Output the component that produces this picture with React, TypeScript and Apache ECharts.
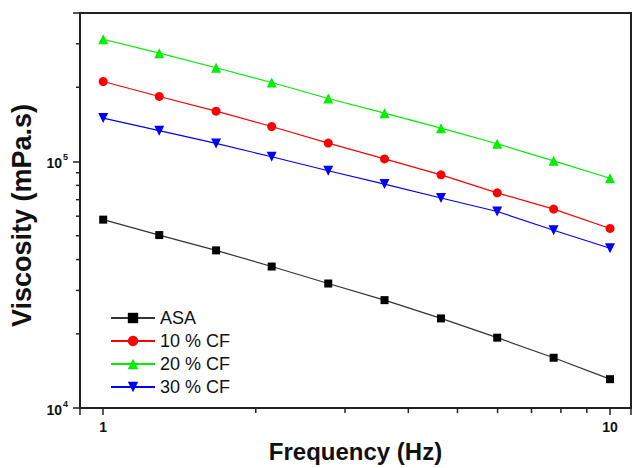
import React, { useEffect, useRef } from "react";
import * as echarts from "echarts";

const frequency = [1, 1.29, 1.67, 2.15, 2.78, 3.59, 4.64, 5.99, 7.74, 10];
const asa = [58100, 50300, 43600, 37500, 32000, 27400, 23100, 19300, 16000, 13100];
const cf10 = [211000, 183500, 160000, 138600, 118700, 102400, 88300, 74600, 64100, 53500];
const cf20 = [313000, 275000, 240000, 209000, 180000, 157000, 136500, 118000, 100600, 85500];
const cf30 = [150000, 133300, 118400, 104500, 91700, 81000, 71100, 62700, 52600, 44500];

const xMinorTicks = [2, 3, 4, 5, 6, 7, 8, 9];
const yMinorTicks = [20000, 30000, 40000, 50000, 60000, 70000, 80000, 90000, 200000, 300000];
const xLabels = [1, 10];
const yLabels = [10000, 100000];

const X_MIN = 0.9;
const X_MAX = 11;
const Y_MIN = 10000;
const Y_MAX = 400000;

const FONT = "'Liberation Sans', Arial, Helvetica, sans-serif";
const AXIS = "#222";

function pairs(ys: number[]) {
  return frequency.map((x, i) => [x, ys[i]]);
}

export default function App() {
  const ref = useRef<HTMLDivElement>(null);
  useEffect(() => {
    if (!ref.current) return;
    const chart = echarts.init(ref.current, undefined, { renderer: "svg" });
    const near = (a: number, b: number) => Math.abs(a - b) / b < 1e-6;
    const lineSeries = (name: string, ys: number[], color: string, symbol: string, size: number, rotate = 0, lineColor = color) => ({
      type: "line",
      name,
      data: pairs(ys),
      symbol,
      symbolSize: size,
      symbolRotate: rotate,
      showAllSymbol: true,
      itemStyle: { color },
      lineStyle: { color: lineColor, width: 1.2 },
      z: 3,
    });
    chart.setOption({
      animation: false,
      backgroundColor: "#fff",
      grid: {
        left: 78,
        right: 0,
        top: 13,
        bottom: 40,
        show: true,
        borderColor: AXIS,
        borderWidth: 2,
        backgroundColor: "transparent",
      },
      legend: {
        orient: "vertical",
        left: 110,
        top: 309,
        padding: 0,
        itemGap: 5,
        itemWidth: 44,
        itemHeight: 13,
        data: ["ASA", "10 % CF", "20 % CF", "30 % CF"],
        textStyle: { fontFamily: FONT, fontSize: 18, color: "#111", lineHeight: 18 },
      },
      xAxis: {
        type: "log",
        logBase: 10,
        min: X_MIN,
        max: X_MAX,
        name: "Frequency (Hz)",
        nameLocation: "middle",
        nameGap: 17,
        nameTextStyle: { fontFamily: FONT, fontSize: 24, fontWeight: "bold", color: "#111" },
        axisLine: { show: true, lineStyle: { color: AXIS, width: 2 } },
        axisTick: { show: true, inside: false, length: 7, lineStyle: { color: AXIS, width: 1.5 } },
        axisLabel: {
          margin: 12,
          fontFamily: FONT,
          fontSize: 14,
          fontWeight: "bold",
          color: "#111",
          showMinLabel: true,
          showMaxLabel: true,
          formatter: (v: number) => (xLabels.some((l) => near(v, l)) ? String(Math.round(v)) : ""),
        },
        splitLine: { show: false },
        minorTick: { show: false },
      },
      yAxis: {
        type: "log",
        logBase: 10,
        min: Y_MIN,
        max: Y_MAX,
        name: "Viscosity (mPa.s)",
        nameLocation: "middle",
        nameGap: 45,
        nameTextStyle: { fontFamily: FONT, fontSize: 27, fontWeight: "bold", color: "#111", padding: [0, 10, 0, 0] },
        axisLine: { show: true, lineStyle: { color: AXIS, width: 2 } },
        axisTick: { show: true, inside: false, length: 7, lineStyle: { color: AXIS, width: 1.5 } },
        axisLabel: {
          margin: 12,
          fontFamily: FONT,
          color: "#111",
          formatter: (v: number) => {
            const hit = yLabels.find((l) => near(v, l));
            return hit ? "{b|10}{s|" + Math.round(Math.log10(hit)) + "}" : "";
          },
          rich: {
            b: { fontFamily: FONT, fontSize: 14, fontWeight: "bold", color: "#111", lineHeight: 18, verticalAlign: "bottom" },
            s: { fontFamily: FONT, fontSize: 9, fontWeight: "bold", color: "#111", lineHeight: 18, verticalAlign: "top", padding: [0, 0, 0, 1] },
          },
        },
        splitLine: { show: false },
        minorTick: { show: false },
      },
      series: [
        lineSeries("ASA", asa, "#000", "rect", 8, 0, "#333"),
        lineSeries("10 % CF", cf10, "#ff0000", "circle", 9),
        lineSeries("20 % CF", cf20, "#00ee00", "triangle", 10),
        lineSeries("30 % CF", cf30, "#0000ff", "triangle", 10, 180),
        {
          type: "custom",
          name: "xminor",
          silent: true,
          z: 10,
          data: xMinorTicks.map((v) => [v, Y_MIN]),
          renderItem: (_p: any, api: any) => {
            const p = api.coord([api.value(0), api.value(1)]);
            return { type: "line", shape: { x1: p[0], y1: p[1], x2: p[0], y2: p[1] + 5 }, style: { stroke: AXIS, lineWidth: 1.5 } };
          },
        },
        {
          type: "custom",
          name: "yminor",
          silent: true,
          z: 10,
          data: yMinorTicks.map((v) => [X_MIN, v]),
          renderItem: (_p: any, api: any) => {
            const p = api.coord([api.value(0), api.value(1)]);
            return { type: "line", shape: { x1: p[0], y1: p[1], x2: p[0] - 4, y2: p[1] }, style: { stroke: AXIS, lineWidth: 1.5 } };
          },
        },
      ],
    });
    return () => chart.dispose();
  }, []);
  return <div ref={ref} style={{ width: 634, height: 468, position: "fixed", left: 0, top: 0 }} />;
}
